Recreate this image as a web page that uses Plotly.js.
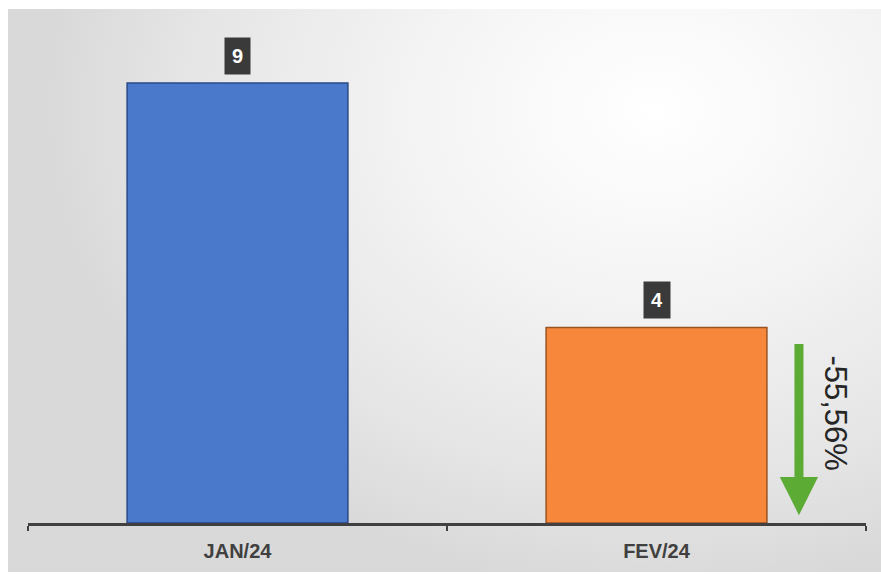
<!DOCTYPE html>
<html>
<head>
<meta charset="utf-8">
<script src="https://cdn.plot.ly/plotly-3.0.1.min.js"></script>
<style>
  html, body { margin: 0; padding: 0; background: #ffffff; }
  #wrap { position: relative; width: 881px; height: 575px; overflow: hidden; }
  #bg {
    position: absolute; left: 8px; top: 9px; right: 0; bottom: 3px;
    background: radial-gradient(ellipse 70% 85% at 74% 18%, #ffffff 0%, #f5f5f5 35%, #e6e6e6 75%, #d9d9d9 100%);
  }
  #chart { position: absolute; left: 0; top: 0; width: 881px; height: 575px; }
</style>
</head>
<body>
<div id="wrap"><div id="bg"></div><div id="chart"></div></div>
<script>
const categories = ["JAN/24", "FEV/24"];
const values = [9, 4];
const barColors = ["#4A79CC", "#F7873A"];
const edgeColors = ["#2a4a86", "#9a5220"];

const change = (values[1] - values[0]) / values[0] * 100;
const changeText = change.toFixed(2).replace(".", ",") + "%";

const trace = {
  type: "bar",
  x: categories,
  y: values,
  marker: { color: barColors, line: { color: edgeColors, width: 1.5 } },
  hoverinfo: "none"
};

const annotations = categories.map((c, i) => ({
  x: c, y: values[i], xref: "x", yref: "y",
  text: "<b>" + values[i] + "</b>",
  showarrow: false,
  yshift: 27,
  font: { family: "Liberation Sans, Arial, sans-serif", size: 20, color: "#ffffff" },
  bgcolor: "#3a3a3a",
  borderpad: 7
}));

// downward change arrow beside the second bar
annotations.push({
  x: 1.34, y: 0.16, xref: "x", yref: "y",
  ax: 1.34, ay: 3.69, axref: "x", ayref: "y",
  showarrow: true, text: "",
  arrowhead: 2, arrowsize: 0.85, arrowwidth: 9, arrowcolor: "#5cab34"
});
annotations.push({
  x: 1.425, y: 2.25, xref: "x", yref: "y",
  text: changeText, showarrow: false, textangle: 90,
  font: { family: "Liberation Sans, Arial, sans-serif", size: 31, color: "#262626" }
});

const layout = {
  width: 881, height: 575,
  margin: { l: 28, r: 15, t: 34, b: 52 },
  paper_bgcolor: "rgba(0,0,0,0)",
  plot_bgcolor: "rgba(0,0,0,0)",
  bargap: 0.473,
  showlegend: false,
  xaxis: {
    type: "category",
    range: [-0.5, 1.5],
    showline: true, linecolor: "#404040", linewidth: 2.5,
    ticks: "outside", tickson: "boundaries", ticklen: 5, tickwidth: 2, tickcolor: "#404040",
    showgrid: false, zeroline: false,
    tickfont: { family: "Liberation Sans, Arial, sans-serif", size: 20, color: "#404040", weight: "bold" },
    ticklabelstandoff: 8
  },
  yaxis: {
    range: [0, 10],
    visible: false, showgrid: false, zeroline: false
  },
  annotations: annotations
};

Plotly.newPlot("chart", [trace], layout, { displayModeBar: false, staticPlot: true });
</script>
</body>
</html>
